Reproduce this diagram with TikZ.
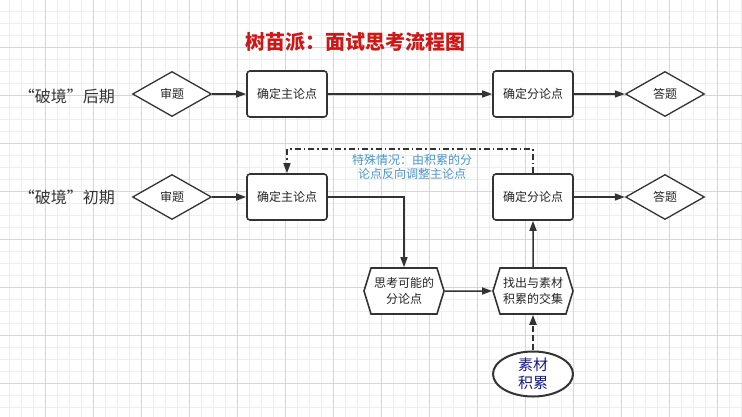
\documentclass[tikz,border=0pt]{standalone}
\usepackage{fontspec}
\setmainfont{Noto Sans CJK SC}
\usetikzlibrary{arrows.meta,shapes.geometric,shapes.symbols}

\definecolor{linegray}{RGB}{51,51,51}
\definecolor{titlered}{RGB}{206,24,24}
\definecolor{noteblue}{RGB}{72,150,205}
\definecolor{navytext}{RGB}{22,22,140}
\definecolor{gridminor}{RGB}{238,238,238}
\definecolor{gridmajor}{RGB}{214,214,214}

\begin{document}
\begin{tikzpicture}[x=1pt, y=-1pt,
  box/.style={draw=linegray, line width=1.6pt, rounded corners=3pt, fill=white, align=center, minimum width=80pt, minimum height=46pt, inner sep=0pt, text=black!85, font=\fontsize{12}{14}\selectfont},
  judge/.style={diamond, draw=linegray, line width=1.3pt, fill=white, minimum width=79pt, minimum height=45pt, inner sep=0pt, text=black!85, font=\fontsize{12}{14}\selectfont},
  hexa/.style={signal, signal to=east and west, signal pointer angle=146, draw=linegray, line width=1.6pt, fill=white, align=center, minimum width=80pt, minimum height=46pt, inner sep=0pt, text=black!85, font=\fontsize{12}{16}\selectfont},
  stock/.style={ellipse, draw=linegray, line width=2pt, fill=white, align=center, minimum width=80pt, minimum height=44pt, inner sep=0pt, text=navytext, font=\fontsize{15}{18}\selectfont},
  phase/.style={text=black!80, font=\fontsize{16}{18}\selectfont},
  arrow/.style={-{Triangle[length=10pt,width=7pt]}, draw=linegray, line width=1.5pt},
  feed/.style={arrow, line width=2pt, dash pattern=on 6pt off 3pt},
  back/.style={arrow, line width=1.5pt, dash pattern=on 6pt off 3pt on 1.5pt off 3pt}
]
\useasboundingbox (0,0) rectangle (742,417);
\fill[white] (0,0) rectangle (742,417);

% grid
\foreach \gx in {9,21,...,741} \draw[gridminor, line width=0.8pt] (\gx,0) -- (\gx,417);
\foreach \gy in {11,23,...,417} \draw[gridminor, line width=0.8pt] (0,\gy) -- (742,\gy);
\foreach \gx in {45,93,...,741} \draw[gridmajor, line width=0.9pt] (\gx,0) -- (\gx,417);
\foreach \gy in {47,95,...,417} \draw[gridmajor, line width=0.9pt] (0,\gy) -- (742,\gy);

\node[text=titlered, font=\fontsize{20}{22}\selectfont\bfseries] (title) at (355,42) {树苗派：面试思考流程图};

% late stage
\node[phase] (late) at (67,96) {“破境”后期};
\node[judge] (read1) at (172,94) {审题};
\node[box] (main1) at (287,94) {确定主论点};
\node[box] (sub1) at (533,94) {确定分论点};
\node[judge] (answer1) at (665,94) {答题};

% early stage
\node[phase] (early) at (67,197) {“破境”初期};
\node[judge] (read2) at (172,197) {审题};
\node[box] (main2) at (287,197) {确定主论点};
\node[box] (sub2) at (533,197) {确定分论点};
\node[judge] (answer2) at (665,197) {答题};
\node[hexa] (guess) at (404,291) {思考可能的\\分论点};
\node[hexa] (match) at (533,291) {找出与素材\\积累的交集};
\node[stock] (stock) at (533,374) {素材\\积累};
\node[text=noteblue, align=center, font=\fontsize{12}{13.5}\selectfont] (note) at (412,167) {特殊情况：由积累的分\\论点反向调整主论点};

\draw[arrow] (read1) -- (main1);
\draw[arrow] (main1) -- (sub1);
\draw[arrow] (sub1) -- (answer1);

\draw[arrow] (read2) -- (main2);
\draw[arrow] (main2.east) -| (guess.north);
\draw[arrow] (guess) -- (match);
\draw[arrow] (match) -- (sub2);
\draw[arrow] (sub2) -- (answer2);
\draw[feed] (stock) -- (match);
\draw[back] (sub2.north) -- ++(0,-24) -| (main2.north);
\end{tikzpicture}
\end{document}
